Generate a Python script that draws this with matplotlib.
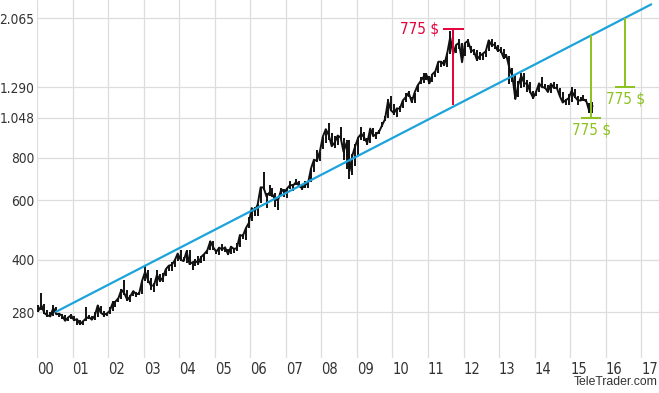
import numpy as np
import matplotlib
matplotlib.use("Agg")
import matplotlib.pyplot as plt
from matplotlib import font_manager as fm
from matplotlib.ticker import FixedLocator, NullLocator

# Gold price, monthly close / low / high in USD (Jan 2000 - Aug 2015)
close = [
    283, 293, 278, 274, 272, 288, 276, 277, 273, 264, 270, 274,
    265, 267, 258, 263, 268, 271, 266, 273, 293, 279, 275, 277,
    282, 297, 301, 308, 326, 318, 304, 312, 323, 316, 318, 347,
    368, 348, 335, 336, 361, 346, 354, 375, 384, 386, 398, 417,
    400, 396, 423, 388, 393, 396, 391, 408, 416, 426, 453, 435,
    422, 434, 429, 435, 415, 437, 430, 433, 473, 470, 495, 513,
    568, 556, 582, 654, 653, 614, 632, 623, 599, 604, 646, 632,
    650, 665, 662, 679, 660, 650, 665, 672, 743, 789, 783, 834,
    923, 971, 933, 865, 886, 930, 918, 833, 884, 730, 814, 869,
    919, 942, 916, 883, 975, 926, 939, 955, 996, 1040, 1175, 1104,
    1083, 1119, 1115, 1180, 1207, 1244, 1169, 1246, 1307, 1346, 1386, 1405,
    1327, 1411, 1439, 1536, 1536, 1505, 1628, 1813, 1620, 1722, 1746, 1531,
    1744, 1770, 1662, 1651, 1558, 1598, 1622, 1648, 1776, 1719, 1726, 1657,
    1664, 1581, 1598, 1470, 1394, 1192, 1314, 1396, 1326, 1324, 1253, 1202,
    1251, 1326, 1292, 1289, 1250, 1322, 1285, 1286, 1216, 1164, 1182, 1199,
    1260, 1214, 1184, 1180, 1190, 1172, 1094, 1135,
]
low = [
    280, 285, 276, 270, 270, 272, 276, 270, 268, 264, 264, 268,
    263, 256, 257, 256, 263, 267, 265, 265, 271, 278, 271, 272,
    277, 283, 290, 300, 307, 315, 301, 300, 312, 310, 314, 317,
    347, 342, 325, 320, 335, 343, 343, 358, 370, 370, 381, 397,
    397, 396, 392, 387, 372, 384, 387, 390, 396, 415, 428, 428,
    416, 412, 423, 420, 414, 415, 418, 425, 437, 461, 456, 495,
    520, 538, 540, 586, 643, 567, 615, 612, 574, 560, 620, 613,
    608, 646, 637, 664, 654, 642, 649, 650, 679, 724, 778, 784,
    846, 887, 902, 864, 852, 870, 908, 786, 740, 690, 712, 755,
    810, 904, 895, 870, 885, 930, 908, 939, 989, 1025, 1045, 1096,
    1068, 1058, 1088, 1121, 1165, 1211, 1158, 1157, 1250, 1318, 1330, 1360,
    1319, 1340, 1383, 1418, 1478, 1496, 1483, 1624, 1620, 1625, 1678, 1531,
    1598, 1700, 1630, 1612, 1540, 1553, 1556, 1591, 1656, 1697, 1680, 1640,
    1627, 1564, 1574, 1324, 1337, 1192, 1211, 1282, 1295, 1251, 1240, 1192,
    1221, 1254, 1292, 1272, 1247, 1244, 1285, 1273, 1208, 1164, 1142, 1141,
    1172, 1200, 1142, 1178, 1179, 1165, 1081, 1085,
]
high = [
    293, 318, 296, 285, 280, 294, 290, 279, 276, 274, 270, 276,
    272, 268, 266, 264, 290, 275, 272, 280, 293, 292, 283, 279,
    289, 302, 302, 309, 327, 349, 326, 314, 324, 320, 322, 347,
    383, 373, 352, 342, 373, 363, 365, 375, 387, 393, 398, 417,
    427, 408, 427, 427, 394, 401, 409, 410, 416, 426, 455, 455,
    427, 436, 445, 436, 431, 440, 430, 449, 473, 476, 495, 536,
    568, 572, 583, 654, 725, 628, 664, 652, 630, 603, 649, 648,
    650, 685, 669, 692, 685, 666, 683, 673, 743, 789, 841, 834,
    924, 971, 1011, 946, 929, 930, 986, 913, 905, 904, 819, 880,
    920, 989, 950, 914, 975, 981, 953, 964, 1017, 1061, 1192, 1218,
    1153, 1119, 1134, 1180, 1239, 1261, 1208, 1246, 1307, 1388, 1421, 1421,
    1390, 1411, 1445, 1536, 1542, 1552, 1628, 1895, 1920, 1722, 1795, 1750,
    1744, 1790, 1710, 1677, 1665, 1640, 1622, 1669, 1784, 1792, 1752, 1720,
    1693, 1678, 1616, 1598, 1470, 1406, 1347, 1420, 1420, 1361, 1342, 1261,
    1262, 1332, 1385, 1320, 1308, 1322, 1339, 1317, 1286, 1249, 1196, 1232,
    1296, 1275, 1218, 1212, 1226, 1189, 1163, 1168,
]

# trend line (years since 2000, price)
trend_x = [0.515, 17.3]
trend_y = [280, 2274]

# 775 $ gaps: year, top, bottom
red_gap = (11.70, 1920, 1145)
green_gaps = [(15.59, 1836, 1048), (16.55, 2065, 1290)]

y_ticks = [280, 400, 600, 800, 1048, 1290, 2065]
y_labels = ["280", "400", "600", "800", "1.048", "1.290", "2.065"]
x_ticks = list(range(18))
x_labels = ["%02d" % i for i in x_ticks]

RED = "#e4003a"
GREEN = "#8cc21f"
BLUE = "#1ca3dc"
TXT = "#333333"


# look for a narrow / condensed regular sans face, the labels are set in one
def find_narrow():
    best = None
    for f in fm.fontManager.ttflist:
        narrow = ("Narrow" in f.name or "Condensed" in f.name
                  or f.stretch in ("condensed", "semi-condensed", "extra-condensed"))
        if not narrow or f.style != "normal":
            continue
        if "Serif" in f.name or "Mono" in f.name or "Sans" not in f.name:
            continue
        w = f.weight if isinstance(f.weight, int) else {"normal": 400, "regular": 400}.get(f.weight, 700)
        if w != 400:
            continue
        if best is None or "DejaVu" in f.name:
            best = f
    return best


nf = find_narrow()


def nfont(size):
    if nf is not None:
        return fm.FontProperties(fname=nf.fname, size=size)
    return fm.FontProperties(family="DejaVu Sans", size=size * 0.9)


months = np.arange(len(close)) / 12 + 1 / 24

fig = plt.figure(figsize=(6.59, 3.93), dpi=100)
ax = fig.add_axes([37 / 659, 35 / 393, 1 - 37 / 659, 1 - 35 / 393])
ax.set_yscale("log")
ax.set_xlim(0, 17.5)
ax.set_ylim(205, 2337)

ax.yaxis.set_major_locator(FixedLocator(y_ticks))
ax.yaxis.set_minor_locator(NullLocator())
ax.set_yticklabels(y_labels)
ax.set_xticks(x_ticks)
ax.set_xticklabels(x_labels)
ax.grid(True, color="#dddddd", linewidth=0.9)
ax.set_axisbelow(True)
for s in ax.spines.values():
    s.set_visible(False)
ax.tick_params(axis="y", length=0, pad=2, colors=TXT)
ax.tick_params(axis="x", length=0, pad=3, colors=TXT)
for lab in ax.get_yticklabels():
    lab.set_fontproperties(nfont(9.8))
for lab in ax.get_xticklabels():
    lab.set_fontproperties(nfont(10.5))
    lab.set_horizontalalignment("left")

# price
ax.vlines(months, low, high, color="#111111", linewidth=1.4)
ax.plot(months, close, color="#111111", linewidth=1.4)

# trend
ax.plot(trend_x, trend_y, color=BLUE, linewidth=1.6, solid_capstyle="butt")

# red gap
x, top, bot = red_gap
ax.vlines(x, bot, top, color=RED, linewidth=1.4)
ax.hlines(top, x - 0.28, x + 0.30, color=RED, linewidth=1.4)
ax.annotate("775 $", (x - 0.28, top), xytext=(-3, 0), textcoords="offset points",
            ha="right", va="center", color=RED, fontproperties=nfont(11))

# green gaps
for x, top, bot in green_gaps:
    ax.vlines(x, bot, top, color=GREEN, linewidth=1.4)
    ax.hlines(bot, x - 0.28, x + 0.28, color=GREEN, linewidth=1.4)
    ax.annotate("775 $", (x, bot), xytext=(0, -3), textcoords="offset points",
                ha="center", va="top", color=GREEN, fontproperties=nfont(11))

fig.text(0.998, 0.012, "TeleTrader.com", ha="right", va="bottom",
         fontsize=8.8, color=TXT, family="Liberation Sans")

fig.savefig("out.png", dpi=100)
